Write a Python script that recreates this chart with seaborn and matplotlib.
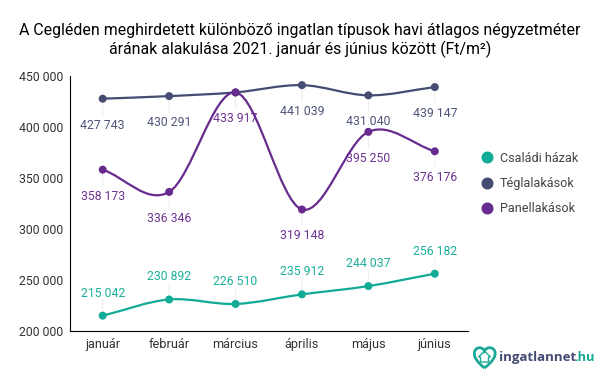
import numpy as np
import pandas as pd
import matplotlib.pyplot as plt
import seaborn as sns
from matplotlib.patches import PathPatch
from matplotlib.path import Path

months = ['január', 'február', 'március', 'április', 'május', 'június']
csaladi = [215042, 230892, 226510, 235912, 244037, 256182]
tegla = [427743, 430291, 433917, 441039, 431040, 439147]
panel = [358173, 336346, 433917, 319148, 395250, 376176]
series_names = ['Családi házak', 'Téglalakások', 'Panellakások']
y_ticks = [200000, 250000, 300000, 350000, 400000, 450000]

GREEN = '#11ab96'
SLATE = '#444c72'
PURPLE = '#672a8e'
PX = 0.72  # px to pt at dpi 100


def fmt(v):
    return f'{v:,}'.replace(',', ' ')


def smooth_path(vals):
    # catmull-rom tangents turned into bezier segments
    y = np.array(vals, dtype=float)
    x = np.arange(len(y), dtype=float)
    t = np.gradient(y)
    verts = [(x[0], y[0])]
    codes = [Path.MOVETO]
    for i in range(len(y) - 1):
        verts += [(x[i] + 1 / 3, y[i] + t[i] / 3), (x[i + 1] - 1 / 3, y[i + 1] - t[i + 1] / 3), (x[i + 1], y[i + 1])]
        codes += [Path.CURVE4] * 3
    return Path(verts, codes)


sns.set_style('white')
plt.rcParams['font.family'] = ['Roboto', 'DejaVu Sans']

df = pd.DataFrame({
    'x': list(range(len(months))) * 3,
    'value': csaladi + tegla + panel,
    'series': np.repeat(series_names, len(months)),
})

fig = plt.figure(figsize=(6, 3.71), dpi=100)
ax = fig.add_axes([69.5 / 600, 1 - 331 / 371, (468 - 69.5) / 600, (331 - 76) / 371])
colors = [GREEN, SLATE, PURPLE]

for vals, c, off in zip([csaladi, tegla, panel], colors, [-22.5, 26.5, 26.5]):
    ax.add_patch(PathPatch(smooth_path(vals), fill=False, edgecolor=c, lw=1.6, zorder=2))
    for i, v in enumerate(vals):
        ax.annotate('', xy=(i, v), xytext=(0, -np.sign(off) * 16 * PX), textcoords='offset points',
                    arrowprops=dict(arrowstyle='-', color='#eeeeee', lw=0.8, shrinkA=0, shrinkB=0), zorder=1)
        # the march label of the flats sits exactly under the panel one
        if c == SLATE and v == panel[i]:
            continue
        ax.annotate(fmt(v), xy=(i, v), xytext=(0, -off * PX), textcoords='offset points',
                    ha='center', va='center', color=c, fontsize=12.3 * PX, zorder=4, alpha=0.95)

sns.scatterplot(data=df, x='x', y='value', hue='series', hue_order=series_names, palette=colors,
                s=(8 * PX) ** 2, linewidth=0, ax=ax, zorder=3)

ax.set_xlim(-0.5, 5.5)
ax.set_ylim(200000, 450000)
ax.set_xticks(range(len(months)))
ax.set_xticklabels(months)
ax.set_yticks(y_ticks)
ax.set_yticklabels([fmt(v) for v in y_ticks])
ax.set_xlabel('')
ax.set_ylabel('')
ax.tick_params(axis='both', length=0, labelsize=12.3 * PX, labelcolor='#333333')
ax.tick_params(axis='x', pad=7 * PX, labelsize=12.8 * PX)
ax.tick_params(axis='y', pad=6.5 * PX)
sns.despine(ax=ax)
for s in ['left', 'bottom']:
    ax.spines[s].set_color('black')
    ax.spines[s].set_linewidth(0.8)

leg = ax.legend(loc='center left', bbox_to_anchor=(474.5 / 600, 1 - 183.5 / 371), bbox_transform=fig.transFigure,
                frameon=False, fontsize=12.6 * PX, markerscale=1.5, labelspacing=0.98, handletextpad=0.0,
                handlelength=2.0, borderpad=0, borderaxespad=0)
for t in leg.get_texts():
    t.set_color('#444444')

fig.text(0.5, 1 - 30 / 371, 'A Cegléden meghirdetett különböző ingatlan típusok havi átlagos négyzetméter',
         ha='center', va='center', fontsize=15.9 * PX, color='black')
fig.text(0.5, 1 - 49 / 371, 'árának alakulása 2021. január és június között (Ft/m²)',
         ha='center', va='center', fontsize=15.9 * PX, color='black')

# logo
logo = fig.add_axes([0, 0, 1, 1], facecolor='none')
logo.set_xlim(0, 600)
logo.set_ylim(371, 0)
logo.axis('off')
heart = Path([(484.5, 368), (477, 362), (473.5, 357), (474.5, 352), (475.5, 347), (482, 346), (484.5, 351),
              (487, 346), (494, 347), (495, 352), (496, 357), (492, 362), (484.5, 368)],
             [Path.MOVETO] + [Path.CURVE4] * 12)
logo.add_patch(PathPatch(heart, fill=False, edgecolor='#1aa897', lw=2.0))
logo.add_patch(plt.Polygon([(484.5, 351), (490.5, 357), (488.5, 357), (488.5, 362), (480.5, 362), (480.5, 357), (478.5, 357)],
                           closed=True, fill=False, edgecolor='#1aa897', lw=1.0))
logo.text(595, 357.5, '.hu', ha='right', va='center', fontsize=12.8 * PX, fontweight='bold',
          color='#1aa897', family='Open Sans')
logo.text(499, 357.5, 'ingatlannet', ha='left', va='center', fontsize=13.2 * PX, fontweight='bold',
          color='#444c72', family='Open Sans')

fig.savefig('out.png', dpi=100)
